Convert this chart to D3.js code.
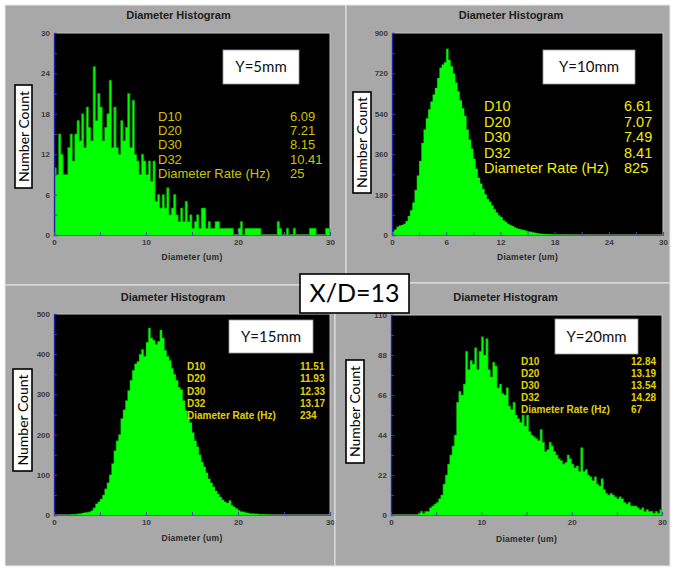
<!DOCTYPE html>
<html>
<head>
<meta charset="utf-8">
<script src="https://cdn.jsdelivr.net/npm/d3@7"></script>
<style>
  body { margin: 0; background: #fff; }
  svg { display: block; }
</style>
</head>
<body>
<div id="chart"></div>
<script>
// histogram bins: 0.25 um wide, 0..30 um
const binWidth = 0.25;

const countsY5 = [10,9,15,12, 9,9,13,15, 11,15,17,14, 18,13,19,16, 14,25,17,21, 19,14,16,18,
  23,13,19,13, 12,17,14,16, 21,13,20,12, 11,9,12,11, 9,11,8,11, 5,6,4,6, 4,7,3,4, 6,3,2,4,
  2,5,2,3, 1,2,3,1, 4,4,1,2, 1,1,2,2, 1,1,1,1, 1,1,0,0, 1,2,0,1, 1,1,1,1, 1,1,0,0, 0,0,0,0,
  0,2,1,0, 0,1,0,0, 1,0,0,0, 0,0,0,1, 1,1,0,0, 0,0,1,1];

const countsY10 = [16,25,37,42, 45,50,62,85, 110,145,200,265, 330,410,470,520, 560,595,626,655,
  700,745,760,770, 830,780,752,720, 680,640,600,565, 530,470,425,385, 340,295,255,230,
  205,182,160,148, 132,115,100,88, 80,66,58,50, 45,40,34,30, 27,24,22,19, 16,14,12,10,
  8,7,6,5, 4,3,3,2, 2,2,1,1, 1,1,1,0, 1,0,1,0, 0,1,0,0, 0,0,0,0, 0,0,0,0, 0,0,0,0,
  0,0,0,0, 0,0,0,0, 0,0,0,0, 0,0,0,0, 0,0,0,0];

const countsY15 = [0,0,0,0, 0,0,0,1, 2,2,3,4, 5,6,7,8, 11,18,28,33, 40,50,65,80,
  100,128,160,185, 200,240,262,285, 310,335,360,376, 382,400,412,395, 430,465,440,435,
  425,432,460,440, 410,395,385,365, 350,335,318,312, 285,260,243,230, 205,185,170,150,
  132,120,105,90, 80,70,60,52, 45,38,33,30, 36,24,20,16, 12,9,8,6, 5,4,4,3, 3,2,2,2,
  1,1,0,0, 0,0,0,0, 0,0,0,0, 0,0,0,0, 0,0,0,0, 0,0,0,0, 0,0,0,0];

const countsY20 = [0,0,0,0, 0,0,0,0, 0,0,0,0, 1,2,1,2, 2,4,5,6, 7,9,11,17, 22,28,33,38,
  44,62,68,66, 72,90,80,85, 83,92,80,90, 98,88,97,80, 76,84,82,70, 72,67,66,70,
  60,58,62,55, 53,51,55,49, 55,46,44,43, 42,41,47,40, 35,36,40,38, 35,33,31,30,
  28,29,33,31, 28,26,27,24, 37,24,25,22, 21,19,21,17, 16,20,14,12, 11,12,11,10,
  9,10,9,7, 6,7,5,5, 5,4,3,4, 2,3,2,2, 1,2,1,3];

const yTicksY5 = [0, 6, 12, 18, 24, 30];
const yTicksY10 = [0, 180, 360, 540, 720, 900];
const yTicksY15 = [0, 100, 200, 300, 400, 500];
const yTicksY20 = [0, 22, 44, 66, 88, 110];
const xTicksY10 = [0, 6, 12, 18, 24, 30];
const xTicksOther = [0, 10, 20, 30];

const statLabels = ["D10", "D20", "D30", "D32", "Diameter Rate (Hz)"];
const statsY5 = ["6.09", "7.21", "8.15", "10.41", "25"];
const statsY10 = ["6.61", "7.07", "7.49", "8.41", "825"];
const statsY15 = ["11.51", "11.93", "12.33", "13.17", "234"];
const statsY20 = ["12.84", "13.19", "13.54", "14.28", "67"];

const positionLabels = ["Y=5mm", "Y=10mm", "Y=15mm", "Y=20mm"];

const width = 674, height = 571;
const svg = d3.select('#chart').append('svg')
  .attr('width', width)
  .attr('height', height);

svg.append('rect').attr('width', width).attr('height', height).attr('fill', '#fff');

const panels = [
  { bg: [5, 5, 341, 280], plot: [54, 33, 330, 235], counts: countsY5, yTicks: yTicksY5, xTicks: xTicksOther,
    stats: statsY5, label: positionLabels[0], titleY: 19, xLabelY: 260, edge: 0.9,
    tag: [223, 50, 76, 34], nc: [15, 85, 17, 103],
    statX: 158, valX: 290, statY: 121, statDy: 14.2, statFont: '13px', statBold: false, statColor: '#cdc400' },
  { bg: [346, 5, 324, 278], plot: [392, 33, 663, 235], counts: countsY10, yTicks: yTicksY10, xTicks: xTicksY10,
    stats: statsY10, label: positionLabels[1], titleY: 19, xLabelY: 260, edge: 0.35,
    tag: [543, 50, 92, 34], nc: [353, 92, 18, 101],
    statX: 484, valX: 624, statY: 111, statDy: 15.5, statFont: '14.5px', statBold: false, statColor: '#f2ee00' },
  { bg: [5, 285, 330, 281], plot: [54, 314, 330, 515], counts: countsY15, yTicks: yTicksY15, xTicks: xTicksOther,
    stats: statsY15, label: positionLabels[2], titleY: 301, xLabelY: 541, edge: 0.5,
    tag: [229, 320, 84, 33], nc: [13, 369, 19, 102],
    statX: 187, valX: 300, statY: 370, statDy: 12.3, statFont: '10px', statBold: true, statColor: '#e2d300' },
  { bg: [335, 283, 335, 283], plot: [391, 315, 662, 515], counts: countsY20, yTicks: yTicksY20, xTicks: xTicksOther,
    stats: statsY20, label: positionLabels[3], titleY: 301, xLabelY: 542, edge: 0.8,
    tag: [555, 319, 83, 35], nc: [346, 360, 18, 103],
    statX: 521, valX: 631, statY: 365, statDy: 12, statFont: '10px', statBold: true, statColor: '#e2d300' }
];

function drawPanel(p) {
  const g = svg.append('g');
  const [bx, by, bw, bh] = p.bg;
  g.append('rect').attr('x', bx).attr('y', by).attr('width', bw).attr('height', bh)
    .attr('fill', '#a8a8a8').attr('stroke', '#e8e8e8').attr('stroke-width', 1);

  const [x0, y0, x1, y1] = p.plot;
  const x = d3.scaleLinear().domain([0, 30]).range([x0, x1]);
  const yMax = p.yTicks[p.yTicks.length - 1];
  const y = d3.scaleLinear().domain([0, yMax]).range([y1, y0]);

  g.append('rect').attr('x', x0).attr('y', y0).attr('width', x1 - x0).attr('height', y1 - y0)
    .attr('fill', '#000').attr('stroke', '#c4c4c4').attr('stroke-width', 1);

  const bins = p.counts.map((c, i) => ({ x0: i * binWidth, c }));
  const steps = bins.concat([{ x0: 30, c: 0 }]);

  // bars as one stepped area, so no seams between bins
  const area = d3.area().curve(d3.curveStepAfter)
    .x(d => x(d.x0)).y0(y(0)).y1(d => y(d.c));
  g.append('path').datum(steps).attr('d', area).attr('fill', '#00ff00');

  // darker step outline like the instrument plot
  const line = d3.line().curve(d3.curveStepAfter).x(d => x(d.x0)).y(d => y(d.c));
  g.append('path').datum(steps).attr('d', line)
    .attr('fill', 'none')
    .attr('stroke', '#0c8f0c')
    .attr('stroke-width', 0.8)
    .attr('opacity', p.edge);

  // axes
  const halfY = (p.yTicks[1] - p.yTicks[0]) / 2;
  const minorY = d3.range(0, yMax + halfY / 2, halfY);
  const halfX = (p.xTicks[1] - p.xTicks[0]) / 2;
  const minorX = d3.range(0, 30 + halfX / 2, halfX);

  const yAxis = g.append('g').attr('transform', `translate(${x0},0)`)
    .call(d3.axisLeft(y).tickValues(p.yTicks).tickSize(0).tickPadding(4).tickFormat(d3.format('d')));
  yAxis.select('.domain').remove();
  yAxis.selectAll('text').attr('font-family', 'Liberation Sans, Arial, sans-serif')
    .attr('font-size', '8px').attr('font-weight', 'bold').attr('fill', '#3a3a3a');

  const yMinor = g.append('g').attr('transform', `translate(${x0},0)`)
    .call(d3.axisRight(y).tickValues(minorY).tickSize(3).tickFormat(''));
  yMinor.select('.domain').attr('stroke', '#22229a').attr('stroke-width', 1.5);
  yMinor.selectAll('line').attr('stroke', '#3a3ab0');

  const xAxis = g.append('g').attr('transform', `translate(0,${y1})`)
    .call(d3.axisBottom(x).tickValues(p.xTicks).tickSize(0).tickPadding(4));
  xAxis.select('.domain').remove();
  xAxis.selectAll('text').attr('font-family', 'Liberation Sans, Arial, sans-serif')
    .attr('font-size', '8px').attr('font-weight', 'bold').attr('fill', '#3a3a3a');

  const xMinor = g.append('g').attr('transform', `translate(0,${y1})`)
    .call(d3.axisTop(x).tickValues(minorX).tickSize(3).tickFormat(''));
  xMinor.select('.domain').attr('stroke', '#5656a8').attr('stroke-width', 1.2);
  xMinor.selectAll('line').attr('stroke', '#4a4ab0');

  // title and axis label
  g.append('text').attr('x', (bx + bw / 2) + 3).attr('y', p.titleY)
    .attr('text-anchor', 'middle')
    .attr('font-family', 'Liberation Sans, Arial, sans-serif')
    .attr('font-size', '11px').attr('font-weight', 'bold').attr('fill', '#202020')
    .text('Diameter Histogram');

  g.append('text').attr('x', (x0 + x1) / 2).attr('y', p.xLabelY)
    .attr('text-anchor', 'middle')
    .attr('font-family', 'Liberation Sans, Arial, sans-serif')
    .attr('font-size', '8.5px').attr('font-weight', 'bold').attr('fill', '#2a2a2a')
    .attr('letter-spacing', '0.3px')
    .text('Diameter  (um)');

  // stats
  const st = g.append('g')
    .attr('font-family', 'Liberation Sans, Arial, sans-serif')
    .attr('font-size', p.statFont)
    .attr('font-weight', p.statBold ? 'bold' : 'normal')
    .attr('fill', p.statColor);
  st.selectAll('text.lab').data(statLabels).join('text').attr('class', 'lab')
    .attr('x', p.statX).attr('y', (d, i) => p.statY + i * p.statDy).text(d => d);
  st.selectAll('text.val').data(p.stats).join('text').attr('class', 'val')
    .attr('x', p.valX).attr('y', (d, i) => p.statY + i * p.statDy).text(d => d);

  // Y=..mm tag
  const [tx, ty, tw, th] = p.tag;
  g.append('rect').attr('x', tx).attr('y', ty).attr('width', tw).attr('height', th)
    .attr('fill', '#fff').attr('stroke', '#9a9a9a').attr('stroke-width', 0.8);
  g.append('text').attr('x', tx + tw / 2).attr('y', ty + th / 2 + 5)
    .attr('text-anchor', 'middle')
    .attr('font-family', 'Lato, Carlito, sans-serif').attr('font-size', '15px').attr('fill', '#111')
    .text(p.label);

  // Number Count box
  const [nx, ny, nw, nh] = p.nc;
  g.append('rect').attr('x', nx).attr('y', ny).attr('width', nw).attr('height', nh)
    .attr('fill', '#fff').attr('stroke', '#000').attr('stroke-width', 1.6);
  g.append('text')
    .attr('transform', `translate(${nx + nw / 2 + 5},${ny + nh / 2}) rotate(-90)`)
    .attr('text-anchor', 'middle')
    .attr('font-family', 'Lato, Carlito, sans-serif').attr('font-size', '14px').attr('fill', '#000')
    .text('Number Count');
}

panels.forEach(drawPanel);

// central X/D label
svg.append('rect').attr('x', 300).attr('y', 274).attr('width', 109).attr('height', 39)
  .attr('fill', '#fff').attr('stroke', '#000').attr('stroke-width', 1.6);
svg.append('text').attr('x', 354.5).attr('y', 302)
  .attr('text-anchor', 'middle')
  .attr('font-family', 'Lato, Carlito, sans-serif').attr('font-size', '25px').attr('fill', '#000')
  .text('X/D=13');
</script>
</body>
</html>
